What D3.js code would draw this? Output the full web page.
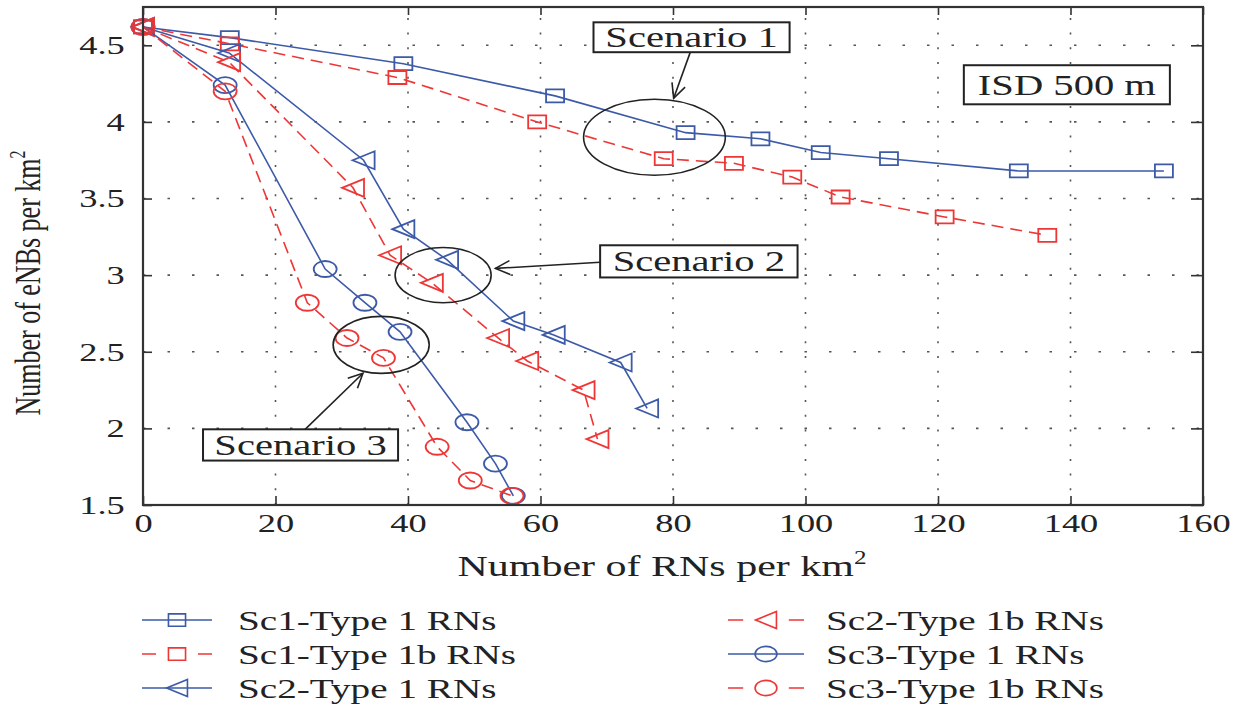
<!DOCTYPE html>
<html>
<head>
<meta charset="utf-8">
<script src="https://cdn.jsdelivr.net/npm/d3@7"></script>
<style>
body{margin:0;background:#fff}
svg{display:block}
text{font-family:"Liberation Serif",serif;fill:#222}
</style>
</head>
<body>
<svg id="chart" width="1245" height="706"></svg>
<script>
// data
var xTicks = [0, 20, 40, 60, 80, 100, 120, 140, 160];
var yTicks = [1.5, 2, 2.5, 3, 3.5, 4, 4.5];

var sc1T1X  = [0, 13.1, 39.3, 62.2, 81.9, 93.2, 102.3, 112.6, 132.2, 154.1];
var sc1T1Y  = [4.62, 4.55, 4.38, 4.17, 3.93, 3.89, 3.80, 3.76, 3.68, 3.68];
var sc1T1bX = [0, 13.1, 38.4, 59.5, 78.6, 89.2, 98.0, 105.3, 121.0, 136.5];
var sc1T1bY = [4.62, 4.51, 4.29, 4.00, 3.76, 3.73, 3.64, 3.51, 3.38, 3.26];
var sc2T1X  = [0, 13.0, 33.3, 39.3, 45.9, 55.9, 62.0, 72.1, 76.1];
var sc2T1Y  = [4.62, 4.45, 3.75, 3.30, 3.10, 2.70, 2.61, 2.43, 2.13];
var sc2T1bX = [0, 13.0, 31.7, 37.3, 43.6, 53.6, 58.0, 66.5, 68.6];
var sc2T1bY = [4.62, 4.39, 3.57, 3.13, 2.95, 2.59, 2.44, 2.25, 1.93];
var sc3T1X  = [0, 12.4, 27.5, 33.5, 38.8, 48.9, 53.2, 55.9];
var sc3T1Y  = [4.62, 4.24, 3.04, 2.82, 2.63, 2.04, 1.77, 1.56];
var sc3T1bX = [0, 12.4, 24.8, 30.8, 36.3, 44.4, 49.4, 55.7];
var sc3T1bY = [4.62, 4.20, 2.82, 2.59, 2.46, 1.88, 1.66, 1.56];

var seriesNames = ["Sc1-Type 1 RNs", "Sc1-Type 1b RNs", "Sc2-Type 1 RNs",
                   "Sc2-Type 1b RNs", "Sc3-Type 1 RNs", "Sc3-Type 1b RNs"];

// annotations, in data units
var ellipses = [
	{cx: 77.2, cy: 3.90, rx: 10.7, ry: 0.248},
	{cx: 45.3, cy: 3.00, rx: 7.25, ry: 0.18},
	{cx: 35.95, cy: 2.545, rx: 7.25, ry: 0.186}
];
var labelBoxes = [
	{text: "Scenario 1", x0: 68.0, x1: 97.6, y0: 4.455, y1: 4.65},
	{text: "Scenario 2", x0: 69.0, x1: 98.8, y0: 2.985, y1: 3.195},
	{text: "Scenario 3", x0: 9.06, x1: 38.5, y0: 1.79, y1: 1.994},
	{text: "ISD 500 m", x0: 123.9, x1: 155.0, y0: 4.115, y1: 4.37}
];
var arrows = [
	{x1: 82.6, y1: 4.454, x2: 80.1, y2: 4.154},
	{x1: 69.0, y1: 3.084, x2: 53.2, y2: 3.044},
	{x1: 24.0, y1: 1.974, x2: 33.2, y2: 2.36}
];

var BLUE = "#3c5aa8", RED = "#ee3636";
var SX = 1.4; // the figure is stretched sideways

var series = [
	{name: seriesNames[0], xs: sc1T1X, ys: sc1T1Y, color: BLUE, dash: null, shape: "square"},
	{name: seriesNames[1], xs: sc1T1bX, ys: sc1T1bY, color: RED, dash: "12,7", shape: "square"},
	{name: seriesNames[2], xs: sc2T1X, ys: sc2T1Y, color: BLUE, dash: null, shape: "tri"},
	{name: seriesNames[3], xs: sc2T1bX, ys: sc2T1bY, color: RED, dash: "12,7", shape: "tri"},
	{name: seriesNames[4], xs: sc3T1X, ys: sc3T1Y, color: BLUE, dash: null, shape: "circle"},
	{name: seriesNames[5], xs: sc3T1bX, ys: sc3T1bY, color: RED, dash: "12,7", shape: "circle"}
];

var svg = d3.select("#chart");
var x = d3.scaleLinear().domain([0, 160]).range([143, 1203]);
var y = d3.scaleLinear().domain([1.5, 4.75]).range([505, 7]);

var markerPath = function(shape, s){
	if(shape == "square"){
		var hw = 9*s, hh = 6.5*s;
		return "M"+(-hw)+","+(-hh)+"H"+hw+"V"+hh+"H"+(-hw)+"Z";
	}
	if(shape == "circle"){
		var rx = 11.5*s, ry = 8*s;
		return "M"+(-rx)+",0A"+rx+","+ry+" 0 1,0 "+rx+",0A"+rx+","+ry+" 0 1,0 "+(-rx)+",0Z";
	}
	return "M"+(-11*s)+",0L"+(11*s)+","+(-9*s)+"L"+(11*s)+","+(9*s)+"Z";
};

// stretched text helper
var stext = function(g, px, py, str, size, anchor){
	return g.append("text")
		.attr("transform", "translate("+px+","+py+") scale("+SX+",1)")
		.attr("text-anchor", anchor || "start")
		.attr("font-size", size)
		.text(str);
};

// grid
var grid = svg.append("g").attr("stroke", "#555").attr("stroke-width", 1.6);
grid.selectAll(".vgrid")
	.data(xTicks.slice(1, -1))
	.enter()
	.append("line")
	.attr("x1", function(d){return x(d);})
	.attr("x2", function(d){return x(d);})
	.attr("y1", y(1.5))
	.attr("y2", y(4.75))
	.attr("stroke-dasharray", "2,12.7");
grid.selectAll(".hgrid")
	.data(yTicks.slice(1))
	.enter()
	.append("line")
	.attr("x1", x(0))
	.attr("x2", x(160))
	.attr("y1", function(d){return y(d);})
	.attr("y2", function(d){return y(d);})
	.attr("stroke-dasharray", "2.5,22");

// axes
var styleAxis = function(g){
	g.attr("font-family", "Liberation Serif").attr("font-size", 26).attr("color", "#222");
	g.select(".domain").remove();
	g.selectAll(".tick line").attr("stroke", "#333").attr("stroke-width", 1.6);
};
var gx = svg.append("g")
	.attr("transform", "translate(0,"+y(1.5)+")")
	.call(d3.axisBottom(x).tickValues(xTicks).tickSizeInner(-9).tickSizeOuter(0).tickPadding(9).tickFormat(function(d){return d;}));
styleAxis(gx);
gx.selectAll("text").attr("transform", "scale("+SX+",1)");

var gy = svg.append("g")
	.attr("transform", "translate("+x(0)+",0)")
	.call(d3.axisLeft(y).tickValues(yTicks).tickSizeInner(-9).tickSizeOuter(0).tickPadding(13).tickFormat(function(d){return d;}));
styleAxis(gy);
gy.selectAll("text").attr("transform", "scale("+SX+",1)");

var gt = svg.append("g")
	.attr("transform", "translate(0,"+y(4.75)+")")
	.call(d3.axisTop(x).tickValues(xTicks).tickSizeInner(-8).tickSizeOuter(0).tickFormat(""));
styleAxis(gt);
var gr = svg.append("g")
	.attr("transform", "translate("+x(160)+",0)")
	.call(d3.axisRight(y).tickValues(yTicks).tickSizeInner(-12).tickSizeOuter(0).tickFormat(""));
styleAxis(gr);

// series
var line = d3.line().x(function(d){return x(d[0]);}).y(function(d){return y(d[1]);});
series.forEach(function(s){
	var pts = s.xs.map(function(v, i){return [v, s.ys[i]];});
	var g = svg.append("g");
	g.append("path")
		.attr("d", line(pts))
		.attr("fill", "none")
		.attr("stroke", s.color)
		.attr("stroke-width", 1.6)
		.attr("stroke-dasharray", s.dash);
	g.selectAll(".mk")
		.data(pts)
		.enter()
		.append("path")
		.attr("class", "mk")
		.attr("transform", function(d){return "translate("+x(d[0])+","+y(d[1])+")";})
		.attr("d", markerPath(s.shape, 1))
		.attr("fill", "none")
		.attr("stroke", s.color)
		.attr("stroke-width", 1.8);
});

// frame
svg.append("rect")
	.attr("x", x(0)).attr("y", y(4.75))
	.attr("width", x(160)-x(0)).attr("height", y(1.5)-y(4.75))
	.attr("fill", "none").attr("stroke", "#333").attr("stroke-width", 2.2);

// annotations
var ann = svg.append("g");
ann.selectAll("ellipse")
	.data(ellipses)
	.enter()
	.append("ellipse")
	.attr("cx", function(d){return x(d.cx);})
	.attr("cy", function(d){return y(d.cy);})
	.attr("rx", function(d){return x(d.cx+d.rx)-x(d.cx);})
	.attr("ry", function(d){return y(d.cy)-y(d.cy+d.ry);})
	.attr("fill", "none").attr("stroke", "#222").attr("stroke-width", 1.6);

arrows.forEach(function(a){
	var x1 = x(a.x1), y1 = y(a.y1), x2 = x(a.x2), y2 = y(a.y2);
	var ang = Math.atan2(y2-y1, x2-x1), len = 16, spread = 0.45;
	ann.append("line").attr("x1", x1).attr("y1", y1).attr("x2", x2).attr("y2", y2)
		.attr("stroke", "#222").attr("stroke-width", 1.6);
	ann.append("path")
		.attr("d", "M"+(x2-len*Math.cos(ang-spread))+","+(y2-len*Math.sin(ang-spread))+
			"L"+x2+","+y2+"L"+(x2-len*Math.cos(ang+spread))+","+(y2-len*Math.sin(ang+spread)))
		.attr("fill", "none").attr("stroke", "#222").attr("stroke-width", 1.6);
});

labelBoxes.forEach(function(b){
	ann.append("rect")
		.attr("x", x(b.x0)).attr("y", y(b.y1))
		.attr("width", x(b.x1)-x(b.x0)).attr("height", y(b.y0)-y(b.y1))
		.attr("fill", "#fff").attr("stroke", "#222").attr("stroke-width", 2);
	stext(ann, (x(b.x0)+x(b.x1))/2, (y(b.y0)+y(b.y1))/2+10, b.text, 29, "middle");
});

// axis titles
var xt = stext(svg, 662, 576, "Number of RNs per km", 30, "middle");
xt.append("tspan").attr("font-size", 18).attr("dy", -12).text("2");

var yt = svg.append("text")
	.attr("transform", "translate(40,283) scale("+SX+",1) rotate(-90)")
	.attr("text-anchor", "middle")
	.attr("font-size", 26)
	.text("Number of eNBs per km");
yt.append("tspan").attr("font-size", 16).attr("dy", -11).text("2");

// legend
var legCols = [{lx0: 142, lx1: 212, tx: 238}, {lx0: 728, lx1: 804, tx: 826}];
var legRows = [620, 654, 688];
series.forEach(function(s, i){
	var c = legCols[Math.floor(i/3)], ry = legRows[i%3];
	var len = c.lx1 - c.lx0;
	var g = svg.append("g");
	g.append("line")
		.attr("x1", c.lx0).attr("x2", c.lx1).attr("y1", ry).attr("y2", ry)
		.attr("stroke", s.color).attr("stroke-width", 1.6)
		.attr("stroke-dasharray", s.dash ? (len*0.2)+","+(len*0.6)+","+(len*0.2) : null);
	g.append("path")
		.attr("transform", "translate("+((c.lx0+c.lx1)/2)+","+ry+")")
		.attr("d", markerPath(s.shape, 0.95))
		.attr("fill", "none").attr("stroke", s.color).attr("stroke-width", 1.6);
	stext(g, c.tx, ry+10, s.name, 28, "start");
});
</script>
</body>
</html>
